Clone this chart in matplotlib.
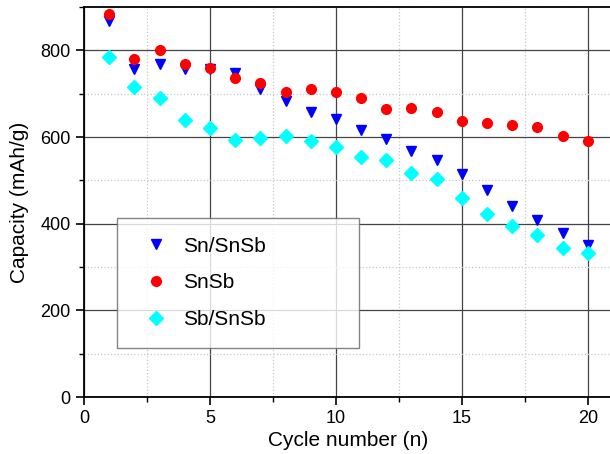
import matplotlib.pyplot as plt
from matplotlib.ticker import MultipleLocator

plt.rcParams['font.family'] = ['Liberation Sans', 'DejaVu Sans']

cycles = list(range(1, 21))
sn_snsb = [868, 757, 769, 756, 757, 747, 711, 683, 657, 642,
           617, 595, 567, 546, 514, 478, 440, 409, 379, 350]
snsb = [884, 780, 801, 769, 759, 736, 724, 705, 710, 703,
        690, 664, 667, 657, 637, 633, 628, 622, 603, 591]
sb_snsb = [784, 716, 690, 640, 620, 592, 597, 603, 590, 576,
           553, 546, 518, 502, 460, 422, 395, 373, 345, 332]

fig = plt.figure(figsize=(6.1, 4.54), dpi=100)
ax = fig.add_axes([84 / 610, 1 - 397 / 454, 529 / 610, 390 / 454])

ax.plot(cycles, sn_snsb, 'v', color='#0000ff', markersize=7.5, label='Sn/SnSb', zorder=3)
ax.plot(cycles, snsb, 'o', color='#ff0000', markersize=7, label='SnSb', zorder=3)
ax.plot(cycles, sb_snsb, 'D', color='#00ffff', markersize=6.8, label='Sb/SnSb', zorder=3)

ax.set_xlim(0, 21)
ax.set_ylim(0, 900)
ax.xaxis.set_major_locator(MultipleLocator(5))
ax.xaxis.set_minor_locator(MultipleLocator(2.5))
ax.yaxis.set_major_locator(MultipleLocator(200))
ax.yaxis.set_minor_locator(MultipleLocator(100))
ax.set_yticks([0, 200, 400, 600, 800])

ax.grid(which='major', color='#444444', linestyle='-', linewidth=0.9)
ax.grid(which='minor', color='#c8c8c8', linestyle=':', linewidth=0.9)
ax.set_axisbelow(True)

for s in ax.spines.values():
    s.set_linewidth(1.3)
ax.tick_params(which='major', direction='out', length=6, width=1.2, labelsize=13)
ax.tick_params(which='minor', direction='out', length=3.5, width=1.0)

ax.set_xlabel('Cycle number (n)', fontsize=15, labelpad=3)
ax.set_ylabel('Capacity (mAh/g)', fontsize=15, labelpad=8)

leg = ax.legend(loc='lower left', bbox_to_anchor=(0.062, 0.126, 0.458, 0.349),
                mode='expand', fontsize=15, frameon=True, fancybox=False,
                borderpad=0.9, labelspacing=0.85, handletextpad=0.3,
                borderaxespad=0)
leg.get_frame().set_edgecolor('#666666')
leg.get_frame().set_linewidth(1.0)

fig.savefig('out.png', dpi=100)
